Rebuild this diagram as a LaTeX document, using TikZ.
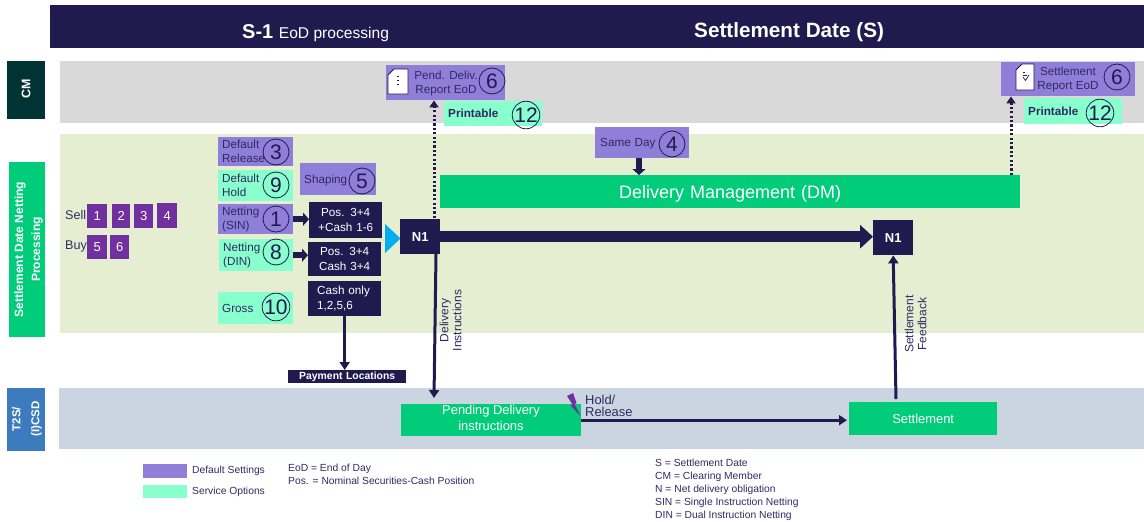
\documentclass[tikz,border=0pt]{standalone}
\usepackage{fontspec}
\setmainfont{Liberation Sans}
\usetikzlibrary{arrows.meta}
\definecolor{navy}{HTML}{201A4F}
\definecolor{inktxt}{HTML}{2F2A63}
\definecolor{defpurple}{HTML}{8F7FD9}
\definecolor{optaqua}{HTML}{88FFCC}
\definecolor{mainGreen}{HTML}{00CC7A}
\definecolor{cmGrey}{HTML}{D9D9D9}
\definecolor{netBand}{HTML}{E6EED2}
\definecolor{csdBand}{HTML}{CBD4E1}
\definecolor{cmDark}{HTML}{003333}
\definecolor{csdBlue}{HTML}{3C7CBE}
\definecolor{legPurple}{HTML}{7030A0}
\definecolor{tipCyan}{HTML}{00AEEF}
\tikzset{
	wh/.style 2 args={minimum width=#1, minimum height=#2, text width=#1-8},
	flatbox/.style={anchor=north west, inner xsep=4, inner ysep=0, align=left, font=\fontsize{11.7}{14}\selectfont},
	defbox/.style={flatbox, fill=defpurple, text=inktxt},
	optbox/.style={flatbox, fill=optaqua, text=inktxt},
	posbox/.style={flatbox, fill=navy, text=white, align=center, font=\fontsize{11.7}{14.5}\selectfont},
	mainbox/.style={flatbox, fill=mainGreen, text=white, align=center, font=\fontsize{12.9}{16}\selectfont},
	sidebox/.style={flatbox, align=center, text=white, font=\bfseries\fontsize{12}{17}\selectfont},
	numsq/.style={flatbox, fill=legPurple, text=white, align=center, inner xsep=0, font=\fontsize{13}{15}\selectfont},
	numc/.style={circle, draw=navy, line width=0.8, inner sep=0, minimum size=26, text=navy, font=\fontsize{21}{21}\selectfont},
	lbl/.style={inner sep=0, text=inktxt, font=\fontsize{11.7}{14}\selectfont},
	note/.style={inner sep=0, anchor=west, align=left, text=inktxt, font=\fontsize{10.3}{13}\selectfont},
	flow/.style={navy, line width=3, -{Triangle[length=8, width=10]}},
	blockarr/.style={navy, line width=6, -{Triangle[length=6, width=13]}},
	dotarr/.style={navy, line width=3, dash pattern=on 2.2 off 2.2, -{Triangle[length=7, width=9]}}
}
\begin{document}
\begin{tikzpicture}[x=1pt,y=-1pt]
	\useasboundingbox (0,0) rectangle (1144,522);
	
	\fill[cmGrey] (60,61) rectangle (1144,123);
	\fill[netBand] (60,134) rectangle (1144,333);
	\fill[csdBand] (59,388) rectangle (1144,449);
	
	\node[flatbox, fill=navy, wh={1094}{43}] (hdr) at (50,5) {};
	\node[inner sep=0, text=white, anchor=base west] (hdrleft) at (242,38) {\bfseries\fontsize{20}{20}\selectfont S-1 \mdseries\fontsize{15.6}{20}\selectfont EoD processing};
	\node[inner sep=0, text=white, anchor=base west, font=\bfseries\fontsize{20.7}{22}\selectfont] (hdrright) at (694,37) {Settlement Date (S)};
	
	\node[sidebox, fill=cmDark, wh={38}{58}] (cmside) at (7,61) {};
	\node[inner sep=0, text=white, rotate=90, font=\bfseries\fontsize{12.4}{14}\selectfont] (cmtxt) at (26,89) {CM};
	\node[sidebox, fill=mainGreen, wh={36}{175}] (netside) at (9,162) {};
	\node[inner sep=0, text=white, rotate=90, align=center, font=\bfseries\fontsize{12}{17}\selectfont] (nettxt) at (28.5,249.5) {Settlement Date Netting\\Processing};
	\node[sidebox, fill=csdBlue, wh={38}{63}] (csdside) at (7,388) {};
	\node[inner sep=0, text=white, rotate=90, align=center, font=\bfseries\fontsize{11.5}{19}\selectfont] (csdtxt) at (27,419) {T2S/\\(I)CSD};
	
	\node[lbl, anchor=west, font=\fontsize{12.6}{14}\selectfont] (selltxt) at (65,215) {Sell};
	\node[lbl, anchor=west, font=\fontsize{12.6}{14}\selectfont] (buytxt) at (65,246) {Buy};
	\node[numsq, wh={20}{24}, text width=20] (sq1) at (87,204) {1};
	\node[numsq, wh={18}{24}, text width=18] (sq2) at (112,204) {2};
	\node[numsq, wh={19}{24}, text width=19] (sq3) at (134,204) {3};
	\node[numsq, wh={20}{25}, text width=20] (sq4) at (157,203) {4};
	\node[numsq, wh={20}{24}, text width=20] (sq5) at (87,235) {5};
	\node[numsq, wh={19}{24}, text width=19] (sq6) at (110,235) {6};
	
	\node[defbox, wh={75}{29}] (relbox) at (218,137) {Default\\Release};
	\node[optbox, wh={75}{31}] (holdbox) at (218,170) {Default\\Hold};
	\node[defbox, wh={75}{30}] (sinbox) at (218,204) {Netting\\(SIN)};
	\node[optbox, wh={74}{32}] (dinbox) at (219,239) {Netting\\(DIN)};
	\node[optbox, wh={75}{32}] (grossbox) at (218,292) {Gross};
	\node[defbox, wh={76}{32}, text depth=0pt] (shapebox) at (300,163) {Shaping};
	\node[defbox, wh={94}{31}, inner xsep=5, text width=84, text depth=0pt] (samebox) at (595,127) {Same Day};
	\node[numc] (c3) at (276,152) {3};
	\node[numc] (c9) at (276,185) {9};
	\node[numc] (c1) at (276,219) {1};
	\node[numc] (c8) at (276,252) {8};
	\node[numc] (c10) at (276,307) {10};
	\node[numc] (c5) at (362,181) {5};
	\node[numc] (c4) at (672,144) {4};
	
	\node[posbox, wh={73}{36}] (posa) at (309,202) {Pos. 3+4\\+Cash 1-6};
	\node[posbox, wh={73}{34}] (posb) at (308,242) {Pos. 3+4\\Cash 3+4};
	\node[posbox, wh={73}{35}, align=left, inner xsep=9, text width=55] (cashbox) at (308,281) {Cash only\\1,2,5,6};
	\node[flatbox, fill=navy, text=white, align=center, wh={118}{13}, font=\bfseries\fontsize{10.4}{12}\selectfont] (paybox) at (288,370) {Payment Locations};
	
	\fill[tipCyan] (385,224) -- (400.5,238.5) -- (385,253) -- cycle;
	\node[flatbox, fill=navy, text=white, align=center, wh={40}{35}, font=\bfseries\fontsize{13}{15}\selectfont] (n1a) at (400,219) {N1};
	\node[flatbox, fill=navy, text=white, align=center, wh={40}{35}, font=\bfseries\fontsize{13}{15}\selectfont] (n1b) at (873,220) {N1};
	\node[mainbox, wh={580}{33}, text depth=0pt, font=\fontsize{18}{20}\selectfont] (dmbox) at (440,175) {Delivery Management (DM)};
	
	\node[defbox, wh={119}{35}] (pendbox) at (386,65) {};
	\node[lbl, align=center] (pendtxt) at (446,83) {Pend. Deliv.\\Report EoD};
	\node[numc] (c6a) at (492,81) {6};
	\node[optbox, wh={98}{25}, text depth=0pt, font=\bfseries\fontsize{11.7}{14}\selectfont] (printa) at (444,101) {Printable};
	\node[numc] (c12a) at (526,115) {12};
	
	\node[defbox, wh={134}{34}] (settbox) at (1001,62) {};
	\node[lbl, align=center] (setttxt) at (1068,79) {Settlement\\Report EoD};
	\node[numc] (c6b) at (1117,77) {6};
	\node[optbox, wh={98}{26}, text depth=0pt, font=\bfseries\fontsize{11.7}{14}\selectfont] (printb) at (1024,98) {Printable};
	\node[numc] (c12b) at (1100,113) {12};
	
	\draw[navy, fill=white, line width=0.8] (388,75) -- (394,69) -- (408,69) -- (408,94) -- (388,94) -- cycle;
	\draw[navy, line width=0.8] (396.5,76) -- (399,76);
	\draw[navy, line width=0.8] (396.5,80) -- (399,80);
	\draw[navy, line width=0.8] (396.5,84) -- (399,84);
	
	\draw[navy, fill=white, line width=0.8] (1016,70) -- (1022,64) -- (1034,64) -- (1034,90) -- (1016,90) -- cycle;
	\draw[navy, line width=0.7] (1023,72) -- (1025,72);
	\draw[navy, line width=0.7] (1023,75) -- (1027,75);
	\draw[navy, line width=0.7] (1023,77) -- (1025.5,80.5) -- (1029,75);
	
	\node[mainbox, wh={180}{32}] (pdibox) at (401,404) {};
	\node[inner sep=0, text=white, align=center, font=\fontsize{12.9}{16}\selectfont] (pditxt) at (491,418) {Pending Delivery\\instructions};
	\node[mainbox, wh={148}{33}, text depth=0pt] (stlbox) at (849,402) {Settlement};
	\fill[legPurple] (567,396) -- (573,393) -- (576.5,403) -- (574.5,404) -- (580.5,416) -- (570.5,405.5) -- (572.5,404.5) -- cycle;
	\node[lbl, anchor=west, align=left, font=\fontsize{12.9}{12}\selectfont] (holdtxt) at (585,406) {Hold/\\Release};
	
	\node[lbl, rotate=90, align=center, font=\fontsize{12}{13}\selectfont] (dlvtxt) at (450.5,320.5) {Delivery\\Instructions};
	\node[lbl, rotate=90, align=center, font=\fontsize{12}{13}\selectfont] (fbtxt) at (915.5,324) {Settlement\\Feedback};
	
	\coordinate (dlvout) at (436,254);
	\coordinate (dlvin) at (434,398);
	\coordinate (fbout) at (896,399);
	\coordinate (pdout) at (434,218);
	\coordinate (dmout) at (1011,175);
	
	\draw[blockarr] (sinbox.east) -- (posa.west |- sinbox.east);
	\draw[blockarr] (dinbox.east) -- (posb.west |- dinbox.east);
	\draw[blockarr] (samebox.south -| 639,0) -- (dmbox.north -| 639,0);
	\draw[navy, line width=11, -{Triangle[length=13, width=23]}] (n1a.east) -- (n1a.east -| n1b.west);
	\draw[flow] (cashbox.south) -- (paybox.north -| cashbox.south);
	\draw[flow] (dlvout) -- (dlvin);
	\draw[flow] (fbout) -- (n1b.south);
	\draw[flow] (pdibox.east) -- ([xshift=-2]pdibox.east -| stlbox.west);
	\draw[dotarr] (pdout) -- (pendbox.south -| pdout);
	\draw[dotarr] (dmout) -- (settbox.south -| dmout);
	
	\fill[defpurple] (143,464) rectangle (187,478);
	\fill[optaqua] (143,485) rectangle (187,498);
	\node[note] (legdef) at (192,471) {Default Settings};
	\node[note] (legopt) at (192,492) {Service Options};
	\node[note] (notea) at (288,474.5) {EoD = End of Day\\Pos. = Nominal Securities-Cash Position};
	\node[note] (noteb) at (655,490) {S = Settlement Date\\CM = Clearing Member\\N = Net delivery obligation\\SIN = Single Instruction Netting\\DIN = Dual Instruction Netting};
	
\end{tikzpicture}
\end{document}
